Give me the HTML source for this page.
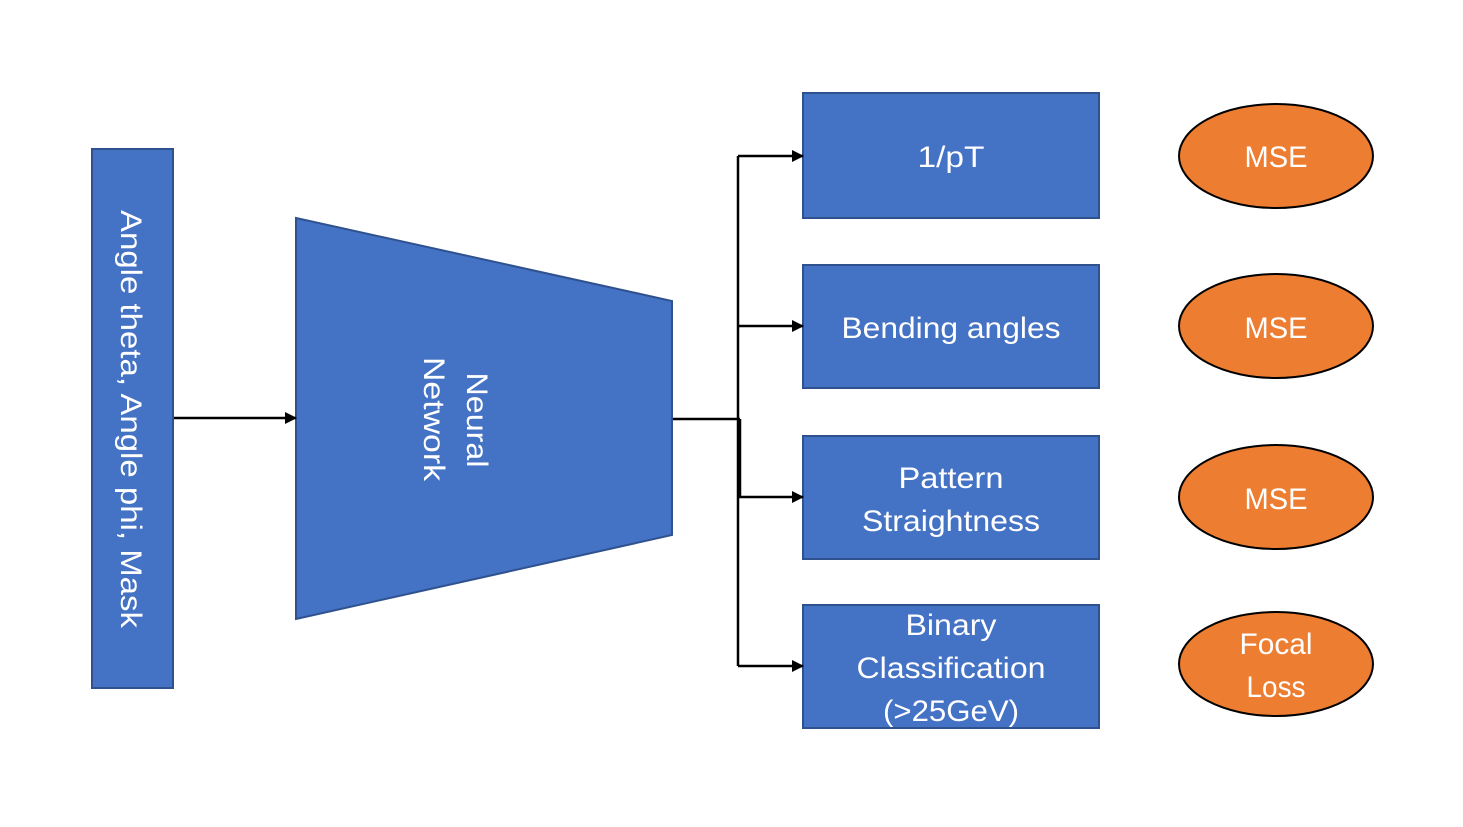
<!DOCTYPE html>
<html><head><meta charset="utf-8"><style>
html,body{margin:0;padding:0;background:#fff;}
svg{display:block;}
text{font-family:"Liberation Sans",sans-serif;fill:#fff;font-size:30px;}
</style></head><body>
<svg width="1463" height="827" viewBox="0 0 1463 827" xmlns="http://www.w3.org/2000/svg">
<defs>
<marker id="a" markerWidth="12" markerHeight="12" refX="11" refY="6" orient="auto" markerUnits="userSpaceOnUse">
<path d="M0,0 L12,6 L0,12 z" fill="#000"/>
</marker>
</defs>
<rect x="92" y="149" width="81" height="539" fill="#4472C4" stroke="#2F528F" stroke-width="2"/>
<text transform="translate(121,419) rotate(90)" text-anchor="middle" textLength="418" lengthAdjust="spacingAndGlyphs">Angle theta, Angle phi, Mask</text>
<polygon points="296,218 672,301 672,535 296,619" fill="#4472C4" stroke="#2F528F" stroke-width="2"/>
<text transform="translate(467,420) rotate(90)" text-anchor="middle" textLength="95" lengthAdjust="spacingAndGlyphs">Neural</text>
<text transform="translate(424,419) rotate(90)" text-anchor="middle" textLength="124" lengthAdjust="spacingAndGlyphs">Network</text>
<g fill="#4472C4" stroke="#2F528F" stroke-width="2">
<rect x="803" y="93" width="296" height="125"/>
<rect x="803" y="265" width="296" height="123"/>
<rect x="803" y="436" width="296" height="123"/>
<rect x="803" y="605" width="296" height="123"/>
</g>
<text x="951" y="167" text-anchor="middle" textLength="67" lengthAdjust="spacingAndGlyphs">1/pT</text>
<text x="951" y="338" text-anchor="middle" textLength="219" lengthAdjust="spacingAndGlyphs">Bending angles</text>
<text x="951" y="488" text-anchor="middle" textLength="105" lengthAdjust="spacingAndGlyphs">Pattern</text>
<text x="951" y="531" text-anchor="middle" textLength="178" lengthAdjust="spacingAndGlyphs">Straightness</text>
<text x="951" y="635" text-anchor="middle" textLength="91" lengthAdjust="spacingAndGlyphs">Binary</text>
<text x="951" y="678" text-anchor="middle" textLength="189" lengthAdjust="spacingAndGlyphs">Classification</text>
<text x="951" y="721" text-anchor="middle" textLength="136" lengthAdjust="spacingAndGlyphs">(&gt;25GeV)</text>
<g fill="#ED7D31" stroke="#000" stroke-width="2">
<ellipse cx="1276" cy="156" rx="97" ry="52"/>
<ellipse cx="1276" cy="326" rx="97" ry="52"/>
<ellipse cx="1276" cy="497" rx="97" ry="52"/>
<ellipse cx="1276" cy="664" rx="97" ry="52"/>
</g>
<text x="1276" y="167" text-anchor="middle" textLength="63" lengthAdjust="spacingAndGlyphs">MSE</text>
<text x="1276" y="338" text-anchor="middle" textLength="63" lengthAdjust="spacingAndGlyphs">MSE</text>
<text x="1276" y="509" text-anchor="middle" textLength="63" lengthAdjust="spacingAndGlyphs">MSE</text>
<text x="1276" y="654" text-anchor="middle" textLength="73" lengthAdjust="spacingAndGlyphs">Focal</text>
<text x="1276" y="697" text-anchor="middle" textLength="59" lengthAdjust="spacingAndGlyphs">Loss</text>
<g stroke="#000" stroke-width="2.5" fill="none">
<line x1="174" y1="418" x2="296" y2="418" marker-end="url(#a)"/>
<line x1="673" y1="419" x2="740" y2="419"/>
<line x1="738" y1="156" x2="738" y2="666"/>
<line x1="740" y1="419" x2="740" y2="497"/>
<line x1="738" y1="156" x2="803" y2="156" marker-end="url(#a)"/>
<line x1="738" y1="326" x2="803" y2="326" marker-end="url(#a)"/>
<line x1="738" y1="497" x2="803" y2="497" marker-end="url(#a)"/>
<line x1="738" y1="666" x2="803" y2="666" marker-end="url(#a)"/>
</g>
</svg>
</body></html>
